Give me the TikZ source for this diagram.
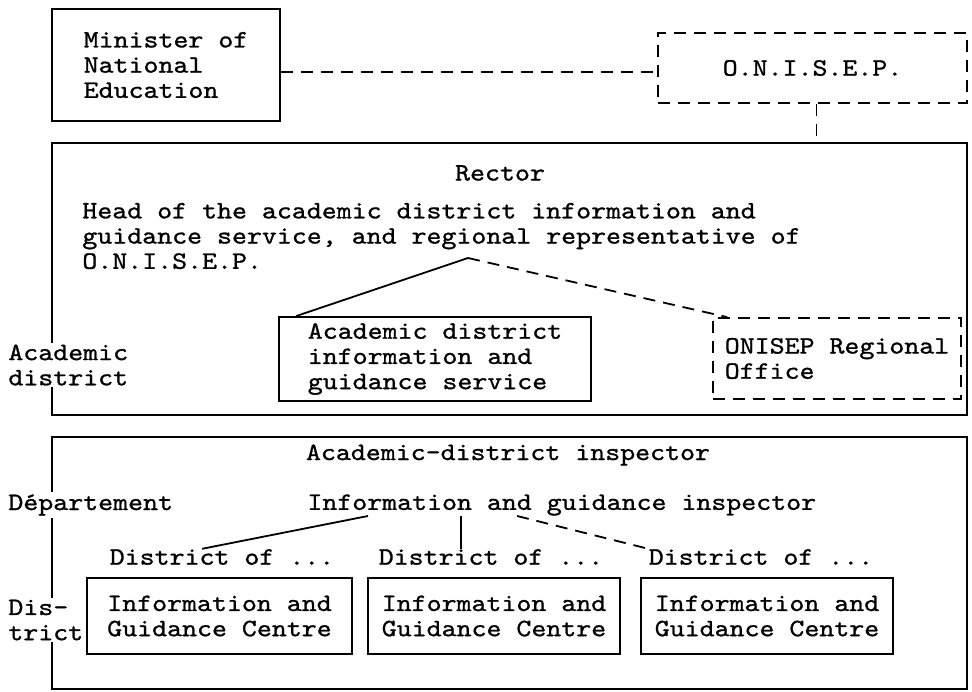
\documentclass[tikz,border=0pt]{standalone}
\usepackage{fontspec}
\newfontfamily\typer[FakeStretch=1.14, FakeBold=1]{lmmono10-regular.otf}
\usepackage{tikz}
\usetikzlibrary{calc}

\tikzset{
  box/.style={draw, line width=0.9pt, align=left, inner sep=0pt},
  dbox/.style={box, dash pattern=on 6pt off 4pt},
  region/.style={draw, line width=0.9pt, inner sep=0pt},
  txt/.style={align=left, inner sep=0pt},
  side/.style={align=left, inner sep=1pt, fill=white, anchor=west},
  link/.style={line width=0.9pt},
  dlink/.style={line width=0.9pt, dash pattern=on 6pt off 4pt}
}

\begin{document}
\begin{tikzpicture}[x=0.5pt, y=-0.5pt, font=\typer\fontsize{12.5pt}{12.6pt}\selectfont]
\useasboundingbox (0,0) rectangle (972,691);

\node [box, minimum width=114pt, minimum height=56pt] (minister) at (166,65) {Minister of\\National\\Education};
\node [dbox, minimum width=154.5pt, minimum height=35pt] (onisep) at (812.5,68) {O.N.I.S.E.P.};

\node [region, minimum width=457.5pt, minimum height=136pt] (academy) at (509.5,279) {};
\node [region, minimum width=457.5pt, minimum height=126pt] (dept) at (509.5,563) {};


\node [txt] (rector) at (500,173) {Rector};
\node [txt, anchor=west] (head) at (82,236) {Head of the academic district information and\\guidance service, and regional representative of\\O.N.I.S.E.P.};
\coordinate (apex) at (468,258);
\node [box, minimum width=156pt, minimum height=42pt] (service) at (435,359) {Academic district\\information and\\guidance service};
\node [dbox, minimum width=124pt, minimum height=40.5pt] (regoffice) at (837,358.5) {ONISEP Regional\\Office};

\node [txt] (inspector) at (508,455) {Academic-district inspector};
\node [txt, anchor=west] (guide) at (307,505) {Information and guidance inspector};
\node [txt] (dist1) at (222,557) {District of ...};
\node [txt] (dist2) at (491,557) {District of ...};
\node [txt] (dist3) at (761,557) {District of ...};
\node [box, minimum width=132.5pt, minimum height=38pt] (centre1) at (219.5,616) {Information and\\Guidance Centre};
\node [box, minimum width=126pt, minimum height=38pt] (centre2) at (494,616) {Information and\\Guidance Centre};
\node [box, minimum width=126pt, minimum height=38pt] (centre3) at (767,616) {Information and\\Guidance Centre};

\node [side] (lacad) at (6,365) {Academic\\district};
\node [side] (ldept) at (6,505) {Département};
\node [side] (ldist) at (6,620) {Dis-\\trict};


\draw [dlink] ([yshift=-2pt]onisep.west -| minister.east) -- ([yshift=-2pt]onisep.west);
\draw [dlink] ([xshift=2pt]onisep.south) -- ([xshift=2pt]onisep.south |- academy.north);
\draw [link] (apex) -- ([xshift=9pt]service.north west);
\draw [dlink] (apex) -- ([xshift=7.5pt]regoffice.north west);
\draw [link] ([xshift=30.5pt]guide.south west) -- ([xshift=-10pt]dist1.north);
\draw [link] ([xshift=77pt]guide.south west) -- ([xshift=77pt]guide.south west |- dist2.north);
\draw [dlink] ([xshift=105pt]guide.south west) -- (dist3.north west);

\end{tikzpicture}
\end{document}
